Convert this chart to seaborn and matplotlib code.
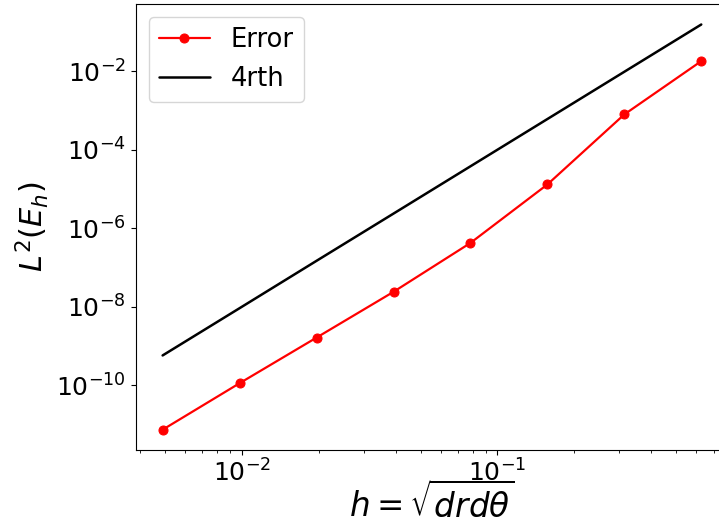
import matplotlib
matplotlib.use("Agg")
import matplotlib.pyplot as plt
import pandas as pd
import seaborn as sns

# mesh size h = sqrt(dr*dtheta), from fine to coarse
h_values = [0.0049, 0.0098, 0.0196, 0.0392, 0.0783, 0.1567, 0.3133, 0.6267]
error_values = [7.4e-12, 1.13e-10, 1.64e-9, 2.4e-8, 4.2e-7, 1.3e-5, 7.9e-4, 1.8e-2]
fourth_order = [5.76e-10, 9.2e-9, 1.48e-7, 2.36e-6, 3.76e-5, 6.03e-4, 9.64e-3, 1.543e-1]

df = pd.DataFrame({'h': h_values, 'Error': error_values, '4rth': fourth_order})

sns.set_style("ticks", {'axes.edgecolor': 'black', 'xtick.color': 'black', 'ytick.color': 'black',
                        'text.color': 'black', 'axes.labelcolor': 'black'})
plt.rcParams['font.family'] = ['DejaVu Sans']
plt.rcParams['xtick.major.size'] = 3.5
plt.rcParams['ytick.major.size'] = 3.5
plt.rcParams['xtick.minor.size'] = 2
plt.rcParams['ytick.minor.size'] = 2

fig, ax = plt.subplots(figsize=(7.19, 5.30), dpi=100)
ax.set(xscale='log', yscale='log')
sns.lineplot(data=df, x='h', y='Error', ax=ax, color='red', marker='o', markersize=6.5,
             markeredgecolor='red', linewidth=1.6, label='Error', estimator=None)
sns.lineplot(data=df, x='h', y='4rth', ax=ax, color='black', linewidth=1.8, label='4rth',
             estimator=None)

ax.set_xlabel(r'$h=\sqrt{drd\theta}$', fontsize=23.5, labelpad=-3)
ax.set_ylabel(r'$L^2(E_h)$', fontsize=22)
ax.tick_params(axis='both', which='major', labelsize=18)
ax.yaxis.set_minor_locator(matplotlib.ticker.NullLocator())
ax.legend(loc='upper left', fontsize=18.5)

fig.subplots_adjust(left=0.1887, right=1.0128, top=0.992, bottom=0.151)
fig.savefig('out.png', dpi=100)
plt.close(fig)
